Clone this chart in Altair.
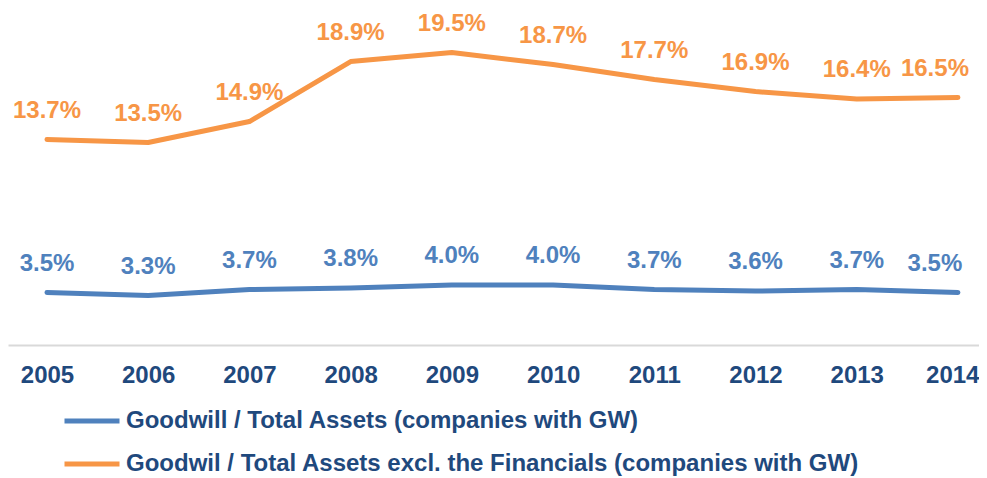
import altair as alt
import pandas as pd

years = [2005, 2006, 2007, 2008, 2009, 2010, 2011, 2012, 2013, 2014]
series_names = [
    "Goodwill / Total Assets (companies with GW)",
    "Goodwil / Total Assets excl. the Financials (companies with GW)",
]
gw_total = [3.5, 3.3, 3.7, 3.8, 4.0, 4.0, 3.7, 3.6, 3.7, 3.5]
gw_excl_fin = [13.7, 13.5, 14.9, 18.9, 19.5, 18.7, 17.7, 16.9, 16.4, 16.5]
colors = ["#4F81BD", "#F79646"]

rows = []
for name, vals in zip(series_names, [gw_total, gw_excl_fin]):
    for y, v in zip(years, vals):
        rows.append({"year": y, "series": name, "value": v})
df = pd.DataFrame(rows)

FONT = "Liberation Sans"
DARK = "#1F497D"
FS = 24
LAST = years[-1]

color = alt.Color(
    "series:N",
    scale=alt.Scale(domain=series_names, range=colors),
    legend=alt.Legend(
        title=None,
        orient="none",
        legendX=54,
        legendY=402,
        direction="vertical",
        symbolType="stroke",
        symbolSize=3025,
        symbolStrokeWidth=5,
        clipHeight=22,
        rowPadding=19,
        labelOffset=4,
        labelFont=FONT,
        labelFontSize=FS,
        labelFontWeight="bold",
        labelColor=DARK,
        labelLimit=0,
        padding=0,
    ),
)

x = alt.X(
    "year:Q",
    scale=alt.Scale(domain=[2004.615, 2014.208], nice=False, zero=False),
    axis=alt.Axis(
        title=None,
        values=years,
        format="d",
        grid=False,
        ticks=False,
        domainColor="#D9D9D9",
        domainWidth=2,
        labelFont=FONT,
        labelFontSize=FS,
        labelFontWeight="bold",
        labelColor=DARK,
        labelPadding=18,
        labelFlush=25,
        labelFlushOffset=21,
    ),
)
y = alt.Y(
    "value:Q",
    scale=alt.Scale(domain=[0, 22.47], nice=False),
    axis=None,
)

base = alt.Chart(df).encode(x=x, y=y, color=color)

lines = base.mark_line(strokeWidth=5, strokeCap="round", strokeJoin="round")
label_base = base.transform_calculate(
    label="format(datum.value, '.1f') + '%'"
)
labels = label_base.transform_filter(alt.datum.year < LAST).mark_text(
    dy=-29, font=FONT, fontSize=FS, fontWeight="bold", baseline="middle"
).encode(text="label:N")
labels_last = label_base.transform_filter(alt.datum.year == LAST).mark_text(
    dy=-29, dx=-23, font=FONT, fontSize=FS, fontWeight="bold", baseline="middle"
).encode(text="label:N")

chart = (
    alt.layer(lines, labels, labels_last)
    .properties(
        width=971,
        height=337,
        autosize=alt.AutoSizeParams(type="none"),
        padding={"left": 0, "top": 0, "right": 0, "bottom": 133},
    )
    .configure_view(stroke=None)
)

chart.save("out.html", embed_options={"renderer": "svg", "actions": False})
